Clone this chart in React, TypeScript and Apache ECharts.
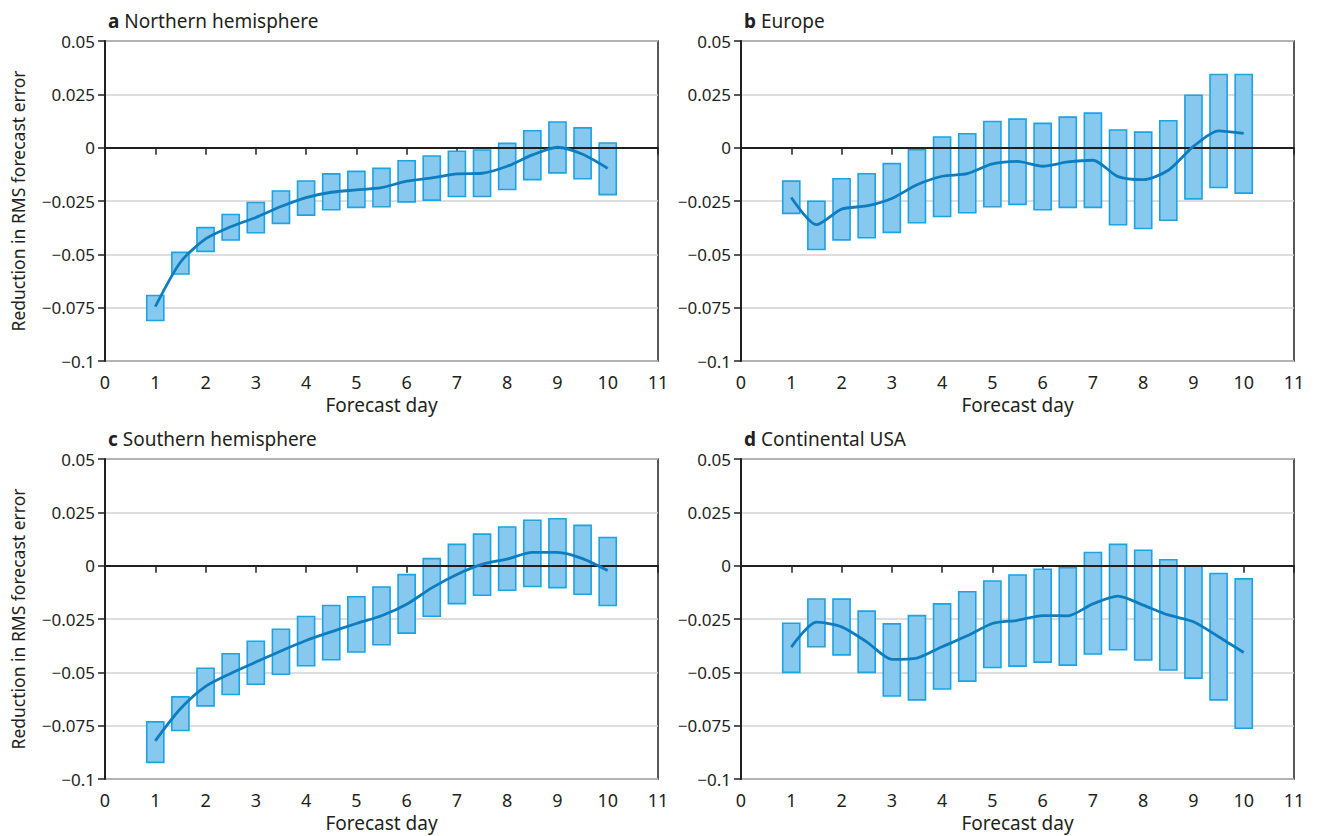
import React, { useEffect, useRef } from "react";
import * as echarts from "echarts";

const days = [1, 1.5, 2, 2.5, 3, 3.5, 4, 4.5, 5, 5.5, 6, 6.5, 7, 7.5, 8, 8.5, 9, 9.5, 10];
const xTicks = [0, 1, 2, 3, 4, 5, 6, 7, 8, 9, 10, 11];
const yTicks = [0.05, 0.025, 0, -0.025, -0.05, -0.075, -0.1];

// a Northern hemisphere
const nhHigh = [-0.0693, -0.0491, -0.0375, -0.0313, -0.0257, -0.0203, -0.0156, -0.0123, -0.0111, -0.0097, -0.0061, -0.0039, -0.0017, -0.0011, 0.002, 0.0079, 0.012, 0.0093, 0.0022];
const nhLow = [-0.081, -0.0592, -0.0486, -0.0433, -0.0399, -0.0355, -0.0316, -0.0291, -0.028, -0.0277, -0.0254, -0.0246, -0.0229, -0.0229, -0.0196, -0.015, -0.0118, -0.0146, -0.022];
const nhMean = [-0.0745, -0.0537, -0.0428, -0.0371, -0.0327, -0.0276, -0.0234, -0.0209, -0.0198, -0.0187, -0.0157, -0.0142, -0.0123, -0.012, -0.0087, -0.0034, 0.0002, -0.0031, -0.0097];

// b Europe
const euHigh = [-0.0157, -0.0251, -0.0146, -0.0122, -0.0075, -0.0009, 0.005, 0.0065, 0.0123, 0.0134, 0.0114, 0.0143, 0.0162, 0.0083, 0.0073, 0.0126, 0.0246, 0.0343, 0.0343];
const euLow = [-0.0308, -0.0477, -0.0432, -0.0422, -0.0397, -0.0352, -0.0323, -0.0305, -0.0277, -0.0266, -0.0291, -0.028, -0.028, -0.0361, -0.0379, -0.034, -0.024, -0.0187, -0.0213];
const euMean = [-0.0234, -0.0361, -0.0288, -0.0273, -0.0238, -0.0174, -0.0134, -0.0122, -0.0076, -0.0064, -0.0087, -0.0067, -0.0059, -0.0136, -0.015, -0.0106, 0.0006, 0.0079, 0.0067];

// c Southern hemisphere
const shHigh = [-0.0732, -0.0615, -0.0481, -0.0413, -0.0354, -0.0298, -0.0238, -0.0187, -0.0146, -0.01, -0.0042, 0.0033, 0.01, 0.0148, 0.0181, 0.0213, 0.022, 0.0189, 0.0132];
const shLow = [-0.0922, -0.0773, -0.0657, -0.0604, -0.0556, -0.0509, -0.0469, -0.0441, -0.0405, -0.0371, -0.0316, -0.0237, -0.0178, -0.0139, -0.0115, -0.0098, -0.0103, -0.0134, -0.0187];
const shMean = [-0.0821, -0.0671, -0.0566, -0.0505, -0.0452, -0.04, -0.0351, -0.031, -0.0271, -0.0235, -0.0181, -0.0104, -0.0041, 0.0006, 0.0031, 0.0062, 0.0062, 0.0033, -0.0023];

// d Continental USA
const usHigh = [-0.027, -0.0156, -0.0157, -0.0213, -0.0273, -0.0234, -0.0179, -0.0122, -0.0072, -0.0044, -0.0017, -0.0009, 0.0062, 0.01, 0.0072, 0.0028, -0.0002, -0.0037, -0.0062];
const usLow = [-0.05, -0.038, -0.0418, -0.05, -0.0611, -0.0629, -0.0578, -0.0541, -0.0477, -0.0471, -0.0452, -0.0466, -0.0414, -0.0394, -0.0442, -0.0489, -0.0527, -0.0629, -0.0762];
const usMean = [-0.0382, -0.0265, -0.0287, -0.0357, -0.0439, -0.0433, -0.038, -0.0329, -0.0271, -0.0256, -0.0234, -0.0235, -0.0179, -0.0143, -0.0185, -0.0231, -0.0263, -0.0333, -0.0407];

const panels = [
  { letter: "a", name: "Northern hemisphere", high: nhHigh, low: nhLow, mean: nhMean },
  { letter: "b", name: "Europe", high: euHigh, low: euLow, mean: euMean },
  { letter: "c", name: "Southern hemisphere", high: shHigh, low: shLow, mean: shMean },
  { letter: "d", name: "Continental USA", high: usHigh, low: usLow, mean: usMean },
];

const FONT = "'Noto Sans', 'Open Sans', sans-serif";
const INK = "#231f20";
const BOX_W = 0.34;

const layout = [
  { left: 105, top: 41, titleTop: 6, yName: true },
  { left: 741, top: 41, titleTop: 6, yName: false },
  { left: 105, top: 459, titleTop: 424, yName: true },
  { left: 741, top: 459, titleTop: 424, yName: false },
];

function fmtY(v: number): string {
  const r = Math.round(v * 1000) / 1000;
  if (r === 0) return "0";
  return (r < 0 ? "\u2212" : "") + String(Math.abs(r));
}

export default function App() {
  const ref = useRef<HTMLDivElement>(null);
  useEffect(() => {
    if (!ref.current) return;
    const chart = echarts.init(ref.current, undefined, { renderer: "svg" });
    const grids: any[] = [];
    const xAxes: any[] = [];
    const yAxes: any[] = [];
    const series: any[] = [];
    const titles: any[] = [];
    panels.forEach((p, i) => {
      const L = layout[i];
      grids.push({
        left: L.left,
        top: L.top,
        width: 553,
        height: 320,
        show: true,
        borderColor: INK,
        borderWidth: 1.5,
        backgroundColor: "transparent",
      });
      xAxes.push({
        gridIndex: i,
        type: "value",
        min: xTicks[0],
        max: xTicks[xTicks.length - 1],
        interval: 1,
        name: "Forecast day",
        nameLocation: "middle",
        nameGap: 34,
        nameTextStyle: { fontFamily: FONT, fontSize: 19, color: INK },
        axisLine: { show: true, lineStyle: { color: INK, width: 2 } },
        axisTick: { show: true, length: 7, lineStyle: { color: INK, width: 1.5 } },
        axisLabel: { fontFamily: FONT, fontSize: 18, color: INK, margin: 12 },
        splitLine: { show: false },
      });
      yAxes.push({
        gridIndex: i,
        type: "value",
        min: yTicks[yTicks.length - 1],
        max: yTicks[0],
        interval: 0.025,
        name: L.yName ? "Reduction in RMS forecast error" : "",
        nameLocation: "middle",
        nameGap: 78,
        nameTextStyle: { fontFamily: FONT, fontSize: 17.5, color: INK },
        axisLine: { show: true, lineStyle: { color: INK, width: 2 } },
        axisTick: { show: true, length: 7, lineStyle: { color: INK, width: 1.5 } },
        axisLabel: { fontFamily: FONT, fontSize: 17, color: INK, margin: 10, formatter: fmtY },
        splitLine: { show: true, lineStyle: { color: "#d2d2d2", width: 1.5 } },
      });
      titles.push({
        text: `{b|${p.letter}} ${p.name}`,
        left: L.left - 2,
        top: L.titleTop,
        textStyle: {
          fontFamily: FONT,
          fontSize: 19,
          fontWeight: "normal",
          color: INK,
          rich: { b: { fontFamily: FONT, fontSize: 19, fontWeight: "bold", color: INK } },
        },
      });
      // zero line
      series.push({
        type: "line",
        xAxisIndex: i,
        yAxisIndex: i,
        data: [],
        z: 1,
        silent: true,
        markLine: {
          silent: true,
          symbol: "none",
          label: { show: false },
          lineStyle: { color: INK, width: 2, type: "solid" },
          data: [{ yAxis: 0 }],
        },
      });
      series.push({
        type: "custom",
        xAxisIndex: i,
        yAxisIndex: i,
        z: 3,
        data: days.map((d, k) => [d, p.low[k], p.high[k]]),
        encode: { x: 0, y: [1, 2] },
        renderItem: (params: any, api: any) => {
          const x = api.value(0);
          const lo = api.value(1);
          const hi = api.value(2);
          const top = api.coord([x, hi]);
          const bot = api.coord([x, lo]);
          const w = api.size([BOX_W, 0])[0];
          return {
            type: "rect",
            shape: { x: top[0] - w / 2, y: top[1], width: w, height: bot[1] - top[1] },
            style: { fill: "#86c8ee", stroke: "#1ba3e2", lineWidth: 1.6 },
          };
        },
      });
      series.push({
        type: "line",
        xAxisIndex: i,
        yAxisIndex: i,
        z: 5,
        data: days.map((d, k) => [d, p.mean[k]]),
        showSymbol: false,
        smooth: 0.25,
        lineStyle: { color: "#0e7dc0", width: 2.8 },
      });
    });
    chart.setOption({
      animation: false,
      backgroundColor: "#ffffff",
      title: titles,
      grid: grids,
      xAxis: xAxes,
      yAxis: yAxes,
      series,
    });
    return () => chart.dispose();
  }, []);
  return (
    <div
      ref={ref}
      style={{ position: "fixed", left: 0, top: 0, width: 1317, height: 836, background: "#fff" }}
    />
  );
}
